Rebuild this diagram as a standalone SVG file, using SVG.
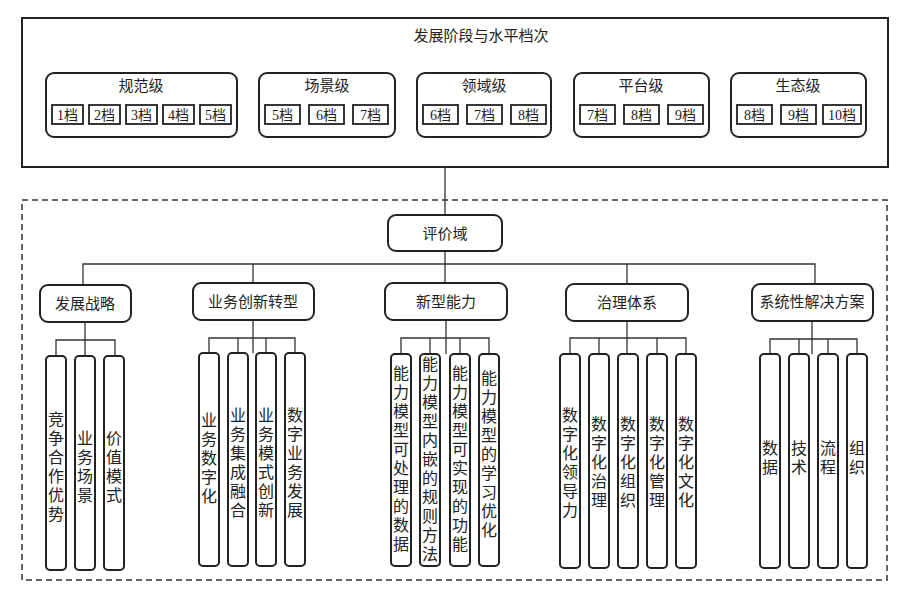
<svg xmlns="http://www.w3.org/2000/svg" width="912" height="600" viewBox="0 0 912 600">
<style>
text{font-family:"Noto Sans CJK SC","Liberation Serif",serif;fill:#222;text-anchor:middle}
.b{fill:#fff;stroke:#222;stroke-width:2}
.s{fill:#fff;stroke:#222;stroke-width:1.8}
.l{fill:none;stroke:#333;stroke-width:1.3}
.t{font-size:15px}
.st{font-size:14px;font-family:"Liberation Serif","Noto Sans CJK SC",serif}
.v{font-size:16px;writing-mode:vertical-rl;letter-spacing:3px;dominant-baseline:central}
</style>
<rect x="0" y="0" width="912" height="600" fill="#fff"/>
<g id="top">
<rect x="22" y="18" width="866" height="149" fill="#fff" stroke="#222" stroke-width="2"/>
<text x="481" y="41" class="t">发展阶段与水平档次</text>
</g>
<g id="l1"><rect class="b" x="46" y="73" width="191" height="64" rx="8"/><text x="141" y="91" class="t">规范级</text>
<rect class="s" x="52" y="105" width="31" height="19"/><text x="67.5" y="120" class="st">1档</text>
<rect class="s" x="89" y="105" width="31" height="19"/><text x="104.5" y="120" class="st">2档</text>
<rect class="s" x="126" y="105" width="31" height="19"/><text x="141.5" y="120" class="st">3档</text>
<rect class="s" x="163" y="105" width="31" height="19"/><text x="178.5" y="120" class="st">4档</text>
<rect class="s" x="200" y="105" width="31" height="19"/><text x="215.5" y="120" class="st">5档</text></g>
<g id="l2"><rect class="b" x="259" y="73" width="136" height="64" rx="8"/><text x="327" y="91" class="t">场景级</text>
<rect class="s" x="265" y="105" width="35" height="19"/><text x="282.5" y="120" class="st">5档</text>
<rect class="s" x="309" y="105" width="35" height="19"/><text x="326.5" y="120" class="st">6档</text>
<rect class="s" x="353" y="105" width="35" height="19"/><text x="370.5" y="120" class="st">7档</text></g>
<g id="l3"><rect class="b" x="417" y="73" width="134" height="64" rx="8"/><text x="484" y="91" class="t">领域级</text>
<rect class="s" x="423" y="105" width="35" height="19"/><text x="440.5" y="120" class="st">6档</text>
<rect class="s" x="467" y="105" width="35" height="19"/><text x="484.5" y="120" class="st">7档</text>
<rect class="s" x="511" y="105" width="35" height="19"/><text x="528.5" y="120" class="st">8档</text></g>
<g id="l4"><rect class="b" x="574" y="73" width="135" height="64" rx="8"/><text x="641" y="91" class="t">平台级</text>
<rect class="s" x="580" y="105" width="35" height="19"/><text x="597.5" y="120" class="st">7档</text>
<rect class="s" x="624" y="105" width="35" height="19"/><text x="641.5" y="120" class="st">8档</text>
<rect class="s" x="668" y="105" width="35" height="19"/><text x="685.5" y="120" class="st">9档</text></g>
<g id="l5"><rect class="b" x="731" y="73" width="135" height="64" rx="8"/><text x="798" y="91" class="t">生态级</text>
<rect class="s" x="737" y="105" width="35" height="19"/><text x="754.5" y="120" class="st">8档</text>
<rect class="s" x="781" y="105" width="35" height="19"/><text x="798.5" y="120" class="st">9档</text>
<rect class="s" x="823" y="105" width="38" height="19"/><text x="842" y="120" class="st">10档</text></g>
<rect x="22" y="200" width="865" height="380" fill="none" stroke="#333" stroke-width="1.5" stroke-dasharray="6,4"/>
<g id="connectors">
<path class="l" d="M445 167V215M445 251V284M83 284V264H815V284M253 264V284M627 264V284"/>
<path class="l" d="M85 321V356M56 356V340H115V356"/>
<path class="l" d="M253 321V353M209 353V338H295V353M238 338V353M266 338V353"/>
<path class="l" d="M446 321V354M401 354V338H489V354M430 338V354M460 338V354"/>
<path class="l" d="M627 321V354M570 354V338H686V354M599 338V354M657 338V354"/>
<path class="l" d="M812 321V354M770 354V339H857V354M799 339V354M828 339V354"/>
</g>
<g id="root"><rect class="b" x="388" y="215" width="114" height="36" rx="8"/><text x="445" y="239" class="t">评价域</text></g>
<g id="c1"><rect class="b" x="40" y="285" width="91" height="37" rx="8"/><text x="85" y="309" class="t">发展战略</text></g>
<g id="c2"><rect class="b" x="193" y="283" width="121" height="37" rx="8"/><text x="253" y="307" class="t">业务创新转型</text></g>
<g id="c3"><rect class="b" x="385" y="283" width="122" height="37" rx="8"/><text x="446" y="307" class="t">新型能力</text></g>
<g id="c4"><rect class="b" x="566" y="284" width="122" height="37" rx="8"/><text x="627" y="308" class="t">治理体系</text></g>
<g id="c5"><rect class="b" x="752" y="284" width="121" height="37" rx="8"/><text x="812" y="307" class="t">系统性解决方案</text></g>
<g id="leaves1">
<rect class="b" x="46" y="356" width="20" height="214" rx="4"/><text x="56" y="468" class="v">竞争合作优势</text>
<rect class="b" x="75" y="356" width="20" height="214" rx="4"/><text x="85" y="468" class="v">业务场景</text>
<rect class="b" x="104" y="356" width="20" height="214" rx="4"/><text x="114" y="468" class="v">价值模式</text>
</g>
<g id="leaves2">
<rect class="b" x="199" y="353" width="20" height="213" rx="4"/><text x="209" y="459" class="v">业务数字化</text>
<rect class="b" x="228" y="353" width="20" height="213" rx="4"/><text x="238" y="464" class="v">业务集成融合</text>
<rect class="b" x="256" y="353" width="20" height="213" rx="4"/><text x="266" y="464" class="v">业务模式创新</text>
<rect class="b" x="285" y="353" width="20" height="213" rx="4"/><text x="295" y="464" class="v">数字业务发展</text>
</g>
<g id="leaves3">
<rect class="b" x="391" y="354" width="20" height="212" rx="4"/><text x="401" y="460" class="v">能力模型可处理的数据</text>
<rect class="b" x="420" y="354" width="20" height="212" rx="4"/><text x="430" y="460" class="v">能力模型内嵌的规则方法</text>
<rect class="b" x="450" y="354" width="20" height="212" rx="4"/><text x="460" y="460" class="v">能力模型可实现的功能</text>
<rect class="b" x="479" y="354" width="20" height="212" rx="4"/><text x="489" y="455" class="v">能力模型的学习优化</text>
</g>
<g id="leaves4">
<rect class="b" x="560" y="354" width="20" height="214" rx="4"/><text x="570" y="464" class="v">数字化领导力</text>
<rect class="b" x="589" y="354" width="20" height="214" rx="4"/><text x="599" y="463" class="v">数字化治理</text>
<rect class="b" x="618" y="354" width="20" height="214" rx="4"/><text x="628" y="463" class="v">数字化组织</text>
<rect class="b" x="647" y="354" width="20" height="214" rx="4"/><text x="657" y="463" class="v">数字化管理</text>
<rect class="b" x="676" y="354" width="20" height="214" rx="4"/><text x="686" y="463" class="v">数字化文化</text>
</g>
<g id="leaves5">
<rect class="b" x="760" y="354" width="20" height="214" rx="4"/><text x="770" y="459" class="v">数据</text>
<rect class="b" x="789" y="354" width="20" height="214" rx="4"/><text x="799" y="459" class="v">技术</text>
<rect class="b" x="818" y="354" width="20" height="214" rx="4"/><text x="828" y="459" class="v">流程</text>
<rect class="b" x="847" y="354" width="20" height="214" rx="4"/><text x="857" y="459" class="v">组织</text>
</g>
</svg>
